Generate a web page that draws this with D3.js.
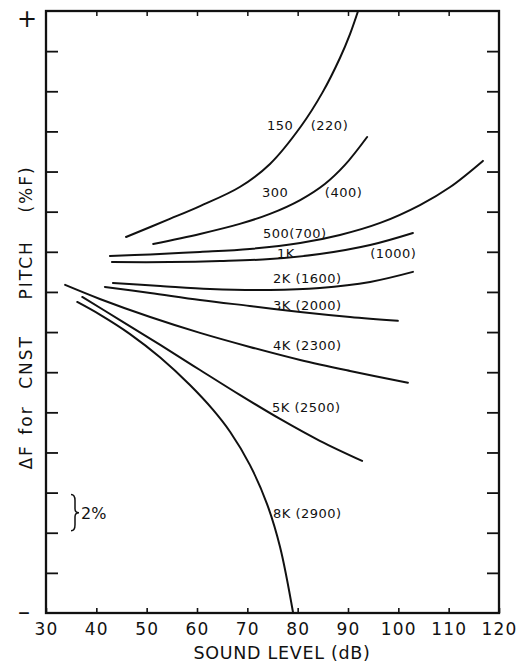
<!DOCTYPE html>
<html>
<head>
<meta charset="utf-8">
<script src="https://cdn.jsdelivr.net/npm/d3@7"></script>
<style>
  body { margin: 0; background: #fff; }
  svg { display: block; }
  text { font-family: "DejaVu Sans", sans-serif; fill: #111; }
</style>
</head>
<body>
<div id="chart"></div>
<script>

// sound level (dB) / pitch shift (% of F)
var c150 = [[45.9,2.74],[54.6,3.64],[60.6,4.28],[68.5,5.23],[74.5,6.38],[80.7,8.27],[85.0,9.97],[88.4,11.66],[90.4,12.85],[92.0,14.0]];
var c300 = [[51.3,2.39],[60.6,2.89],[68.5,3.39],[74.5,3.89],[80.5,4.58],[85.4,5.38],[89.4,6.33],[93.8,7.72]];
var c500 = [[42.7,1.79],[50.7,1.87],[60.6,1.99],[70.5,2.14],[80.5,2.44],[88.4,2.84],[96.4,3.44],[104.3,4.33],[110.3,5.23],[116.8,6.53]];
var c1k  = [[43.1,1.49],[54.6,1.49],[64.6,1.54],[74.5,1.64],[84.4,1.89],[94.4,2.34],[102.9,2.94]];
var c2k  = [[43.3,0.45],[52.7,0.30],[62.6,0.15],[74.5,0.10],[84.4,0.20],[94.4,0.50],[102.9,1.00]];
var c3k  = [[41.7,0.25],[50.7,-0.05],[60.6,-0.40],[70.5,-0.70],[80.5,-1.00],[90.4,-1.25],[99.9,-1.44]];
var c4k  = [[33.8,0.35],[40.7,-0.35],[50.7,-1.25],[60.6,-2.04],[70.5,-2.74],[80.5,-3.39],[90.4,-3.94],[101.9,-4.53]];
var c5k  = [[37.2,-0.25],[44.7,-1.40],[52.7,-2.64],[60.6,-3.89],[68.5,-5.13],[76.5,-6.33],[84.4,-7.42],[92.8,-8.42]];
var c8k  = [[36.2,-0.50],[40.7,-1.13],[46.7,-2.10],[52.7,-3.27],[58.6,-4.64],[63.2,-5.88],[66.6,-6.98],[70.5,-8.62],[73.9,-10.56],[76.5,-12.71],[79.1,-16.0]];

var curves = [c150, c300, c500, c1k, c2k, c3k, c4k, c5k, c8k];

// curve labels: text, dB, % (left end of text, baseline)
var labels = [
  ["150", 73.9, 8.07], ["(220)", 82.6, 8.07],
  ["300", 72.9, 4.73], ["(400)", 85.4, 4.73],
  ["500(700)", 73.1, 2.69],
  ["1K", 75.9, 1.69], ["(1000)", 94.4, 1.69],
  ["2K (1600)", 75.1, 0.45],
  ["3K (2000)", 75.1, -0.90],
  ["4K (2300)", 75.1, -2.89],
  ["5K (2500)", 74.9, -5.98],
  ["8K (2900)", 75.1, -11.26]
];

var xTicks = [30, 40, 50, 60, 70, 80, 90, 100, 110, 120];
var yTicks = [-14, -12, -10, -8, -6, -4, -2, 0, 2, 4, 6, 8, 10, 12];

// y title words and where their centres sit (in %)
var yTitleWords = [["ΔF", -8.22], ["for", -6.38], ["CNST", -3.49], ["PITCH", 1.10], ["(%F)", 5.13]];

var width = 517, height = 666;
var margin = {top: 11, right: 18, bottom: 53, left: 46};

var svg = d3.select("#chart").append("svg")
    .attr("width", width)
    .attr("height", height);

var x = d3.scaleLinear().domain([30, 120]).range([margin.left, width - margin.right]);
var y = d3.scaleLinear().domain([-16, 14]).range([height - margin.bottom, margin.top]);

// bottom axis with labels, ticks pointing inwards
var xAxis = svg.append("g")
    .attr("transform", "translate(0," + y(-16) + ")")
    .call(d3.axisBottom(x).tickValues(xTicks).tickSizeInner(-5).tickSizeOuter(0).tickPadding(10));
xAxis.select(".domain").remove();
xAxis.selectAll("line").attr("stroke", "#111").attr("stroke-width", 1.6);
xAxis.selectAll("text")
    .style("font-size", "17px")
    .style("letter-spacing", "1.2px")
    .attr("fill", "#111");

// top ticks
var topAxis = svg.append("g")
    .attr("transform", "translate(0," + y(14) + ")")
    .call(d3.axisTop(x).tickValues(xTicks.slice(1, -1)).tickSize(-5).tickFormat(""));
topAxis.select(".domain").remove();
topAxis.selectAll("line").attr("stroke", "#111").attr("stroke-width", 1.5);

// left + right ticks
var leftAxis = svg.append("g")
    .attr("transform", "translate(" + x(30) + ",0)")
    .call(d3.axisLeft(y).tickValues(yTicks).tickSize(-12).tickFormat(""));
leftAxis.select(".domain").remove();
leftAxis.selectAll("line").attr("stroke", "#111").attr("stroke-width", 1.8);

var rightAxis = svg.append("g")
    .attr("transform", "translate(" + x(120) + ",0)")
    .call(d3.axisRight(y).tickValues(yTicks).tickSize(-12).tickFormat(""));
rightAxis.select(".domain").remove();
rightAxis.selectAll("line").attr("stroke", "#111").attr("stroke-width", 1.8);

// frame
svg.append("rect")
    .attr("x", x(30))
    .attr("y", y(14))
    .attr("width", x(120) - x(30))
    .attr("height", y(-16) - y(14))
    .attr("fill", "none")
    .attr("stroke", "#111")
    .attr("stroke-width", 2.3);

// the curves
var line = d3.line()
    .x(function(d) { return x(d[0]); })
    .y(function(d) { return y(d[1]); })
    .curve(d3.curveCatmullRom.alpha(0.5));

svg.append("g").selectAll("path")
    .data(curves)
    .enter().append("path")
    .attr("d", line)
    .attr("fill", "none")
    .attr("stroke", "#111")
    .attr("stroke-width", 2)
    .attr("stroke-linecap", "round");

svg.append("g").selectAll("text")
    .data(labels)
    .enter().append("text")
    .attr("x", function(d) { return x(d[1]); })
    .attr("y", function(d) { return y(d[2]); })
    .style("font-size", "13px")
    .style("letter-spacing", "0.5px")
    .text(function(d) { return d[0]; });

// axis titles
svg.append("text")
    .attr("x", 282)
    .attr("y", 659)
    .attr("text-anchor", "middle")
    .style("font-size", "17.5px")
    .style("letter-spacing", "0.7px")
    .text("SOUND LEVEL (dB)");

svg.append("g").selectAll("text")
    .data(yTitleWords)
    .enter().append("text")
    .attr("transform", function(d) { return "translate(32," + y(d[1]) + ") rotate(-90)"; })
    .attr("text-anchor", "middle")
    .style("font-size", "17px")
    .style("letter-spacing", "2px")
    .text(function(d) { return d[0]; });

svg.append("text")
    .attr("x", 27)
    .attr("y", y(14) + 16)
    .attr("text-anchor", "middle")
    .style("font-size", "24px")
    .text("+");

svg.append("text")
    .attr("x", 24)
    .attr("y", y(-16) + 7)
    .attr("text-anchor", "middle")
    .style("font-size", "24px")
    .text("–");

// 2% scale brace
var b0 = y(-10.1), b1 = y(-11.9), bm = (b0 + b1) / 2, bx = 71;
svg.append("path")
    .attr("d", "M" + bx + "," + b0 + " Q" + (bx + 4) + "," + b0 + " " + (bx + 4) + "," + (b0 + 6) +
               " L" + (bx + 4) + "," + (bm - 4) + " Q" + (bx + 4) + "," + bm + " " + (bx + 8) + "," + bm +
               " Q" + (bx + 4) + "," + bm + " " + (bx + 4) + "," + (bm + 4) +
               " L" + (bx + 4) + "," + (b1 - 6) + " Q" + (bx + 4) + "," + b1 + " " + bx + "," + b1)
    .attr("fill", "none")
    .attr("stroke", "#111")
    .attr("stroke-width", 1.5);

svg.append("text")
    .attr("x", bx + 10)
    .attr("y", bm + 6)
    .style("font-size", "16px")
    .text("2%");

</script>
</body>
</html>
